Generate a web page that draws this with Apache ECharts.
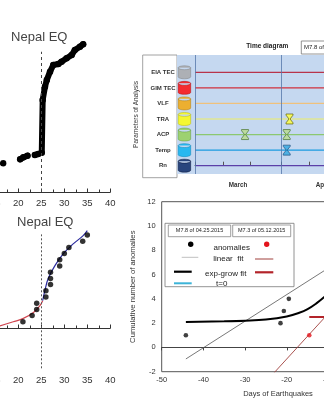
<!DOCTYPE html>
<html>
<head>
<meta charset="utf-8">
<script src="https://cdn.jsdelivr.net/npm/echarts@6/dist/echarts.min.js"></script>
<style>
  html, body { margin: 0; padding: 0; background: #fff; }
  #chart { width: 324px; height: 400px; }
</style>
</head>
<body>
<div id="chart"></div>
<script>
// ---------- Panel A: cumulative trace around the Nepal earthquake (day 25) ----------
// null entries split the trace into its separate pieces
const traceDays   = [16.7, null, 20.4, 21.1, 22.0, null, 23.6, 24.3, 25.1, 25.3, 25.8, 26.2, 26.9, 27.6, 28.7, 29.4, 30.5, 31.6, 32.3, 33.4, 34.1];
const traceValues = [19.1, null, 21.8, 23.1, 24.2, null, 24.7, 25.3, 26.2, 61.3, 70.2, 74.7, 80.2, 84.7, 85.3, 86.9, 89.1, 91.3, 94.7, 96.9, 98.5];
const quakeDay = 25;
const dayTicks = [15, 20, 25, 30, 35, 40];

// ---------- Panel B: cumulative anomalies with pre/post fits ----------
const anomalyDays   = [21, 23, 24, 24, 26, 26, 27, 27, 27, 29, 29, 30, 31, 34, 35];
const anomalyCounts = [1, 2, 3, 4, 5, 6, 7, 8, 9, 10, 11, 12, 13, 14, 15];
const preFitDays    = [15, 16, 18.9, 21.1, 23.3, 24.7, 25.3];
const preFitValues  = [0.15, 0.34, 1.0, 1.55, 2.5, 3.6, 4.4];
const postFitDays   = [25.3, 25.8, 26.5, 28.0, 29.8, 32.0, 34.1, 35.0];
const postFitValues = [4.4, 6.1, 8.0, 10.1, 12.0, 13.6, 14.9, 15.7];

// ---------- Panel C: time diagram of the analysed parameters ----------
const paramNames   = ['EIA TEC', 'GIM TEC', 'VLF', 'TRA', 'ACP', 'Temp', 'Rn'];
const monthNames   = ['March', 'April'];
const monthCenters = [15.5, 46];      // days counted from 1 March
const monthStarts  = [0, 31];
const timeTicks    = [0, 10, 20, 31, 41, 51, 61, 71];
const lineSpan     = [0, 80];
const traMarks     = [34];
const acpMarks     = [18, 33];
const tempMarks    = [33];

// ---------- Panel D: anomalies before the two main shocks ----------
const m78Days   = [-44.2, -21.5, -20.7, -19.5];
const m78Counts = [1, 2, 3, 4];
const m73Days   = [-14.6];
const m73Counts = [1];
const m78LinDays = [-44.2, 0];
const m78LinVals = [-0.95, 8.73];
const m73LinDays = [-26, 0];
const m73LinVals = [-3.2, 6.55];
const m78ExpDays = [-44.2, -35, -30, -25, -20, -17, -15, -13, -11, -8];
const m78ExpVals = [2.1, 2.15, 2.2, 2.3, 2.55, 2.85, 3.15, 3.6, 4.15, 5.2];
const m73ExpDays = [-14.6, -5];
const m73ExpVals = [2.5, 2.5];
const countTicks = [-2, 0, 2, 4, 6, 8, 10, 12];

// ---------- styles ----------
const FONT = "'Liberation Sans', Arial, sans-serif";
const DIAGRAM_BLUE = '#c5d8f0';
const paramLineColors = ['#b8334a', '#d0303c', '#f0c17c', '#dfe793', '#8cc870', '#1a9be0', '#5b40a8'];
const cylinderColors  = ['#a6a6a6', '#ff0000', '#f5a500', '#ffff00', '#92d050', '#00b0f0', '#002060'];
const cylinderEdge    = ['#7f7f7f', '#b00000', '#b07800', '#b8b800', '#5f9a30', '#0080b0', '#000c30'];
const CYL = 'path://M0,3 A8,3 0 0 1 16,3 L16,17 A8,3 0 0 1 0,17 Z M0,3 A8,3 0 0 0 16,3';
const HOURGLASS = 'path://M0,0 L10,0 L10,1.6 L5.8,7 L10,12.4 L10,14 L0,14 L0,12.4 L4.2,7 L0,1.6 Z';

const pairs = (xs, ys) => xs.map((x, i) => (x === null || ys[i] === null) ? ['-', '-'] : [x, ys[i]]);
const rowOf = name => paramNames.length - 1 - paramNames.indexOf(name);

const leftXAxis = (gridIndex, margin) => ({
  gridIndex, type: 'value', min: dayTicks[0], max: dayTicks[dayTicks.length - 1], interval: 5,
  axisLine: { lineStyle: { color: '#333', width: 1 } },
  axisTick: { inside: true, length: 3.5, lineStyle: { color: '#333' } },
  minorTick: { show: true, splitNumber: 2, length: 2.5, lineStyle: { color: '#333' } },
  axisLabel: { fontSize: 9.5, color: '#333', margin, fontFamily: FONT },
  splitLine: { show: false }
});

const hourglassSeries = (marks, name, fill, edge) => ({
  type: 'scatter', xAxisIndex: 2, yAxisIndex: 2, clip: false,
  symbol: HOURGLASS, symbolSize: [7, 10],
  itemStyle: { color: fill, borderColor: edge, borderWidth: 0.8 },
  data: marks.map(d => [d, rowOf(name)]), z: 5
});

const chart = echarts.init(document.getElementById('chart'), null, { renderer: 'canvas' });

const option = {
  animation: false,
  textStyle: { fontFamily: FONT },
  title: [
    { text: 'Nepal EQ', left: 39.3, top: 30.5, textAlign: 'center', padding: 0,
      textStyle: { fontSize: 13, fontWeight: 'normal', color: '#444', fontFamily: FONT } },
    { text: 'Nepal EQ', left: 45.3, top: 215.5, textAlign: 'center', padding: 0,
      textStyle: { fontSize: 13, fontWeight: 'normal', color: '#444', fontFamily: FONT } },
    { text: 'Time diagram', left: 267.3, top: 42.3, textAlign: 'center', padding: 0,
      textStyle: { fontSize: 6.5, fontWeight: 'bold', color: '#222', fontFamily: FONT } }
  ],
  grid: [
    { left: -4.7, right: 213.7, top: 42, bottom: 208, outerBoundsMode: 'none', containLabel: false },
    { left: -4.7, right: 213.7, top: 228.8, bottom: 31.7, outerBoundsMode: 'none', containLabel: false },
    { left: 195, right: -93.4, top: 55, bottom: 226, show: true, backgroundColor: DIAGRAM_BLUE, borderWidth: 0,
      outerBoundsMode: 'none', containLabel: false },
    { left: 161.7, right: -70.3, top: 201.7, bottom: 28.3, show: true, borderColor: '#555', borderWidth: 1,
      outerBoundsMode: 'none', containLabel: false }
  ],
  xAxis: [
    leftXAxis(0, 6),
    leftXAxis(1, 7),
    {
      gridIndex: 2, type: 'value', min: lineSpan[0], max: lineSpan[1], offset: 3,
      axisLine: { lineStyle: { type: 'dotted', color: '#555', width: 1 } },
      axisTick: { inside: true, length: 4, customValues: timeTicks, lineStyle: { color: '#555' } },
      axisLabel: { customValues: monthCenters, formatter: v => monthNames[monthCenters.indexOf(v)],
                   fontSize: 6.3, fontWeight: 'bold', color: '#333', margin: 5 },
      splitLine: { show: false }
    },
    {
      gridIndex: 3, type: 'value', min: -50, max: 5.8, interval: 10,
      axisLine: { lineStyle: { color: '#444' } },
      axisTick: { length: 3, lineStyle: { color: '#444' } },
      axisLabel: { fontSize: 7.5, color: '#333', margin: 4, showMaxLabel: false },
      splitLine: { show: false },
      name: 'Days of Earthquakes', nameLocation: 'middle', nameGap: 18.5,
      nameTextStyle: { fontSize: 7.5, color: '#333' }
    }
  ],
  yAxis: [
    { gridIndex: 0, type: 'value', min: 0, max: 100, show: false },
    { gridIndex: 1, type: 'value', min: -6.5, max: 16, show: false },
    {
      gridIndex: 2, type: 'value', min: -0.533, max: 7.11,
      axisLine: { show: false }, axisTick: { show: false }, splitLine: { show: false },
      axisLabel: { customValues: [0, 1, 2, 3, 4, 5, 6], formatter: v => paramNames[paramNames.length - 1 - v],
                   align: 'center', margin: 32, fontSize: 6, fontWeight: 'bold', color: '#333' },
      name: 'Parameters of Analysis', nameLocation: 'middle', nameGap: 54.3,
      nameTextStyle: { fontSize: 6.5, color: '#333' }
    },
    {
      gridIndex: 3, type: 'value', min: countTicks[0], max: countTicks[countTicks.length - 1], interval: 2,
      axisLine: { show: true, lineStyle: { color: '#444' } },
      axisTick: { show: true, length: 3, lineStyle: { color: '#444' } },
      axisLabel: { fontSize: 7.5, color: '#333', margin: 6 },
      splitLine: { show: false },
      name: 'Cumulative number of anomalies', nameLocation: 'middle', nameGap: 21,
      nameTextStyle: { fontSize: 7.7, color: '#333' }
    }
  ],
  series: [
    // Panel A
    {
      type: 'line', xAxisIndex: 0, yAxisIndex: 0, data: pairs(traceDays, traceValues),
      connectNulls: false, showSymbol: true, symbol: 'circle', symbolSize: 6.5,
      itemStyle: { color: '#000' },
      lineStyle: { color: '#000', width: 6, cap: 'round', join: 'round' },
      markLine: {
        silent: true, symbol: 'none', label: { show: false },
        lineStyle: { type: [3, 3], color: '#444', width: 1 },
        data: [[{ coord: [quakeDay, 0] }, { coord: [quakeDay, 93.5] }]]
      }
    },
    // Panel B
    {
      type: 'line', xAxisIndex: 1, yAxisIndex: 1, data: pairs(preFitDays, preFitValues),
      smooth: 0.4, showSymbol: false, lineStyle: { color: '#d0454f', width: 1.2 }
    },
    {
      type: 'line', xAxisIndex: 1, yAxisIndex: 1, data: pairs(postFitDays, postFitValues),
      smooth: 0.4, showSymbol: false, lineStyle: { color: '#2b2b9e', width: 1.2 }
    },
    {
      type: 'scatter', xAxisIndex: 1, yAxisIndex: 1, data: pairs(anomalyDays, anomalyCounts),
      symbolSize: 5.5, itemStyle: { color: '#000' }, z: 4,
      markLine: {
        silent: true, symbol: 'none', label: { show: false },
        lineStyle: { type: [2, 2], color: '#555', width: 1 },
        data: [[{ coord: [quakeDay, -6.5] }, { coord: [quakeDay, 15.1] }]]
      }
    },
    // Panel C: parameter lines
    ...paramNames.map((name, i) => ({
      type: 'line', xAxisIndex: 2, yAxisIndex: 2, showSymbol: false,
      data: lineSpan.map(d => [d, rowOf(name)]),
      lineStyle: { color: paramLineColors[i], width: 1.3 },
      markLine: i === 0 ? {
        silent: true, symbol: 'none', label: { show: false },
        lineStyle: { type: 'solid', color: '#5577aa', width: 0.8 },
        data: monthStarts.map(d => ({ xAxis: d }))
      } : undefined
    })),
    {
      type: 'scatter', xAxisIndex: 2, yAxisIndex: 2, clip: false,
      symbol: CYL, symbolSize: [12.5, 13],
      data: paramNames.map((name, i) => ({
        value: [-3.8, rowOf(name)],
        itemStyle: { color: cylinderColors[i], borderColor: cylinderEdge[i], borderWidth: 0.6 }
      }))
    },
    hourglassSeries(traMarks, 'TRA', '#ffff3a', '#5a5a00'),
    hourglassSeries(acpMarks, 'ACP', '#b9dc8c', '#3d6b22'),
    hourglassSeries(tempMarks, 'Temp', '#2ea6e0', '#1d4a78'),
    // Panel D
    {
      type: 'line', xAxisIndex: 3, yAxisIndex: 3, data: pairs(m78LinDays, m78LinVals),
      showSymbol: false, lineStyle: { color: '#555', width: 0.8 }
    },
    {
      type: 'line', xAxisIndex: 3, yAxisIndex: 3, data: pairs(m73LinDays, m73LinVals),
      showSymbol: false, lineStyle: { color: '#a0403c', width: 0.9 }
    },
    {
      type: 'line', xAxisIndex: 3, yAxisIndex: 3, data: pairs(m78ExpDays, m78ExpVals),
      smooth: 0.4, showSymbol: false, lineStyle: { color: '#000', width: 2 }
    },
    {
      type: 'line', xAxisIndex: 3, yAxisIndex: 3, data: pairs(m73ExpDays, m73ExpVals),
      showSymbol: false, lineStyle: { color: '#b3242a', width: 2 },
      markLine: {
        silent: true, symbol: 'none', label: { show: false },
        lineStyle: { type: 'solid', color: '#3cb4d8', width: 2 },
        data: [{ xAxis: 0 }]
      }
    },
    {
      type: 'scatter', xAxisIndex: 3, yAxisIndex: 3, data: pairs(m78Days, m78Counts),
      symbolSize: 4.6, itemStyle: { color: '#111' }, z: 4
    },
    {
      type: 'scatter', xAxisIndex: 3, yAxisIndex: 3, data: pairs(m73Days, m73Counts),
      symbolSize: 4.6, itemStyle: { color: '#e3141c' }, z: 4
    }
  ],
  graphic: {
    elements: [
      // label column of the time diagram
      { type: 'rect', z: -5, shape: { x: 142.7, y: 55, width: 34.3, height: 122.7 },
        style: { fill: '#fff', stroke: '#8a8a8a', lineWidth: 0.8 } },
      // blue strip behind the database icons
      { type: 'rect', z: -5, shape: { x: 177, y: 55, width: 18, height: 119 },
        style: { fill: DIAGRAM_BLUE } },
      // event tag of the time diagram
      { type: 'rect', z: 10, shape: { x: 301.3, y: 41, width: 40, height: 13 },
        style: { fill: '#fff', stroke: '#777', lineWidth: 0.8 } },
      { type: 'text', z: 11, x: 304, y: 47.5,
        style: { text: 'M7.8 of 04.25.2015', fontSize: 6, fontFamily: FONT, fill: '#222',
                 align: 'left', verticalAlign: 'middle', textAlign: 'left', textVerticalAlign: 'middle' } },
      // legend of the anomaly panel
      { type: 'group', z: 100, children: [
        { type: 'rect', shape: { x: 165, y: 223.3, width: 129, height: 63.4 },
          style: { fill: '#fff', stroke: '#777', lineWidth: 0.8 } },
        { type: 'rect', shape: { x: 168.3, y: 225, width: 62.4, height: 11.7 },
          style: { fill: '#fff', stroke: '#777', lineWidth: 0.7 } },
        { type: 'rect', shape: { x: 232.7, y: 225, width: 58, height: 11.7 },
          style: { fill: '#fff', stroke: '#777', lineWidth: 0.7 } },
        { type: 'text', x: 199.5, y: 230.9,
          style: { text: 'M7.8 of 04.25.2015', fontSize: 5.5, fontFamily: FONT, fill: '#222',
                   align: 'center', verticalAlign: 'middle', textAlign: 'center', textVerticalAlign: 'middle' } },
        { type: 'text', x: 261.7, y: 230.9,
          style: { text: 'M7.3 of 05.12.2015', fontSize: 5.5, fontFamily: FONT, fill: '#222',
                   align: 'center', verticalAlign: 'middle', textAlign: 'center', textVerticalAlign: 'middle' } },
        { type: 'circle', shape: { cx: 190.7, cy: 244.3, r: 2.7 }, style: { fill: '#000' } },
        { type: 'circle', shape: { cx: 266.7, cy: 244.3, r: 2.7 }, style: { fill: '#e3141c' } },
        { type: 'text', x: 231.7, y: 247.3,
          style: { text: 'anomalies', fontSize: 8, fontFamily: FONT, fill: '#222',
                   align: 'center', verticalAlign: 'middle', textAlign: 'center', textVerticalAlign: 'middle' } },
        { type: 'line', shape: { x1: 181.7, y1: 257.3, x2: 198.3, y2: 257.3 }, style: { stroke: '#c0c0c0', lineWidth: 1 } },
        { type: 'line', shape: { x1: 255, y1: 259, x2: 273.3, y2: 259 }, style: { stroke: '#a0403c', lineWidth: 1 } },
        { type: 'text', x: 228.3, y: 259,
          style: { text: 'linear  fit', fontSize: 8, fontFamily: FONT, fill: '#222',
                   align: 'center', verticalAlign: 'middle', textAlign: 'center', textVerticalAlign: 'middle' } },
        { type: 'line', shape: { x1: 174, y1: 271.7, x2: 191.7, y2: 271.7 }, style: { stroke: '#000', lineWidth: 2.2 } },
        { type: 'line', shape: { x1: 255, y1: 272.3, x2: 273.3, y2: 272.3 }, style: { stroke: '#b3242a', lineWidth: 2.2 } },
        { type: 'text', x: 225.7, y: 274,
          style: { text: 'exp-grow fit', fontSize: 8, fontFamily: FONT, fill: '#222',
                   align: 'center', verticalAlign: 'middle', textAlign: 'center', textVerticalAlign: 'middle' } },
        { type: 'line', shape: { x1: 174, y1: 283.3, x2: 191.7, y2: 283.3 }, style: { stroke: '#3cb4d8', lineWidth: 2 } },
        { type: 'text', x: 221.7, y: 283.5,
          style: { text: 't=0', fontSize: 8, fontFamily: FONT, fill: '#222',
                   align: 'center', verticalAlign: 'middle', textAlign: 'center', textVerticalAlign: 'middle' } }
      ] }
    ]
  }
};

chart.setOption(option);
</script>
</body>
</html>
